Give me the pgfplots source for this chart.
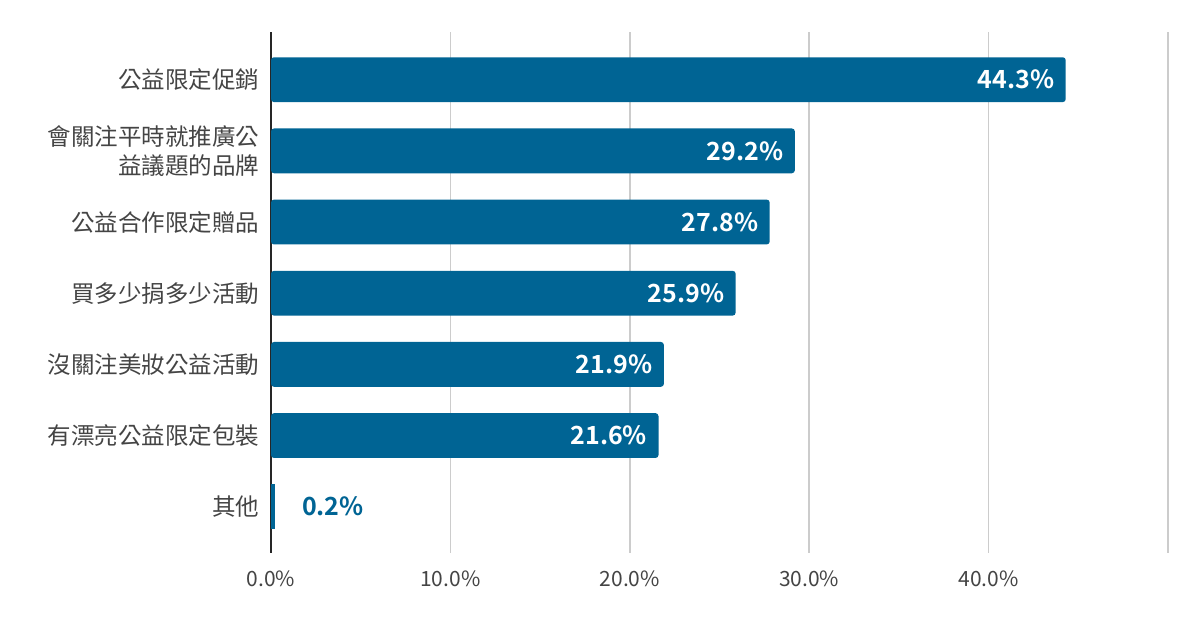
\documentclass[border=0pt]{standalone}
\usepackage{fontspec}
\setmainfont{Noto Sans CJK TC}[BoldFont={Noto Sans CJK TC Bold}]
\usepackage{pgfplots}
\pgfplotsset{compat=1.18}
\definecolor{barblue}{RGB}{0,100,148}
\definecolor{labelgray}{RGB}{68,68,68}
\definecolor{gridgray}{RGB}{204,204,204}
\begin{document}
\begin{tikzpicture}
\path[use as bounding box] (0,0) rectangle (1200bp,628bp);
\begin{axis}[
    at={(271bp,75bp)}, anchor=south west,
    scale only axis, width=897bp, height=521bp,
    xmin=0, xmax=50, ymin=-0.67, ymax=6.65, y dir=reverse,
    axis y line*=left, axis x line*=bottom,
    x axis line style={draw=none},
    y axis line style={draw=black!85, line width=1.6bp},
    xmajorgrids, major grid style={gridgray, line width=1.6bp},
    major tick length=0pt,
    /pgf/number format/assume math mode=true,
    xtick={0,10,20,30,40,50},
    xticklabels={0.0\%,10.0\%,20.0\%,30.0\%,40.0\%,{}},
    ytick={0,...,6},
    yticklabels={公益限定促銷, {會關注平時就推廣公\\益議題的品牌}, 公益合作限定贈品, 買多少捐多少活動, 沒關注美妝公益活動, 有漂亮公益限定包裝, 其他},
    xticklabel style={text=labelgray, font=\fontsize{21bp}{26bp}\selectfont, yshift=-14bp},
    yticklabel style={text=labelgray, font=\fontsize{23.5bp}{29bp}\selectfont, align=right, xshift=-8bp},
    xbar, bar width=0.63, bar shift=0pt,
    point meta=x,
]
\addplot[fill=barblue, draw=none, rounded corners=3bp,
    nodes near coords={\pgfmathprintnumber[fixed,precision=1,fixed zerofill]{\pgfplotspointmeta}\%},
    nodes near coords style={anchor=east, xshift=-8bp, text=white, font=\fontsize{25bp}{30bp}\selectfont\bfseries}]
coordinates {(44.3,0) (29.2,1) (27.8,2) (25.9,3) (21.9,4) (21.6,5)};
\addplot[fill=barblue, draw=none,
    nodes near coords={\pgfmathprintnumber[fixed,precision=1,fixed zerofill]{\pgfplotspointmeta}\%},
    nodes near coords style={anchor=west, xshift=24bp, text=barblue, font=\fontsize{25bp}{30bp}\selectfont\bfseries}]
coordinates {(0.2,6)};
\end{axis}
\end{tikzpicture}
\end{document}
